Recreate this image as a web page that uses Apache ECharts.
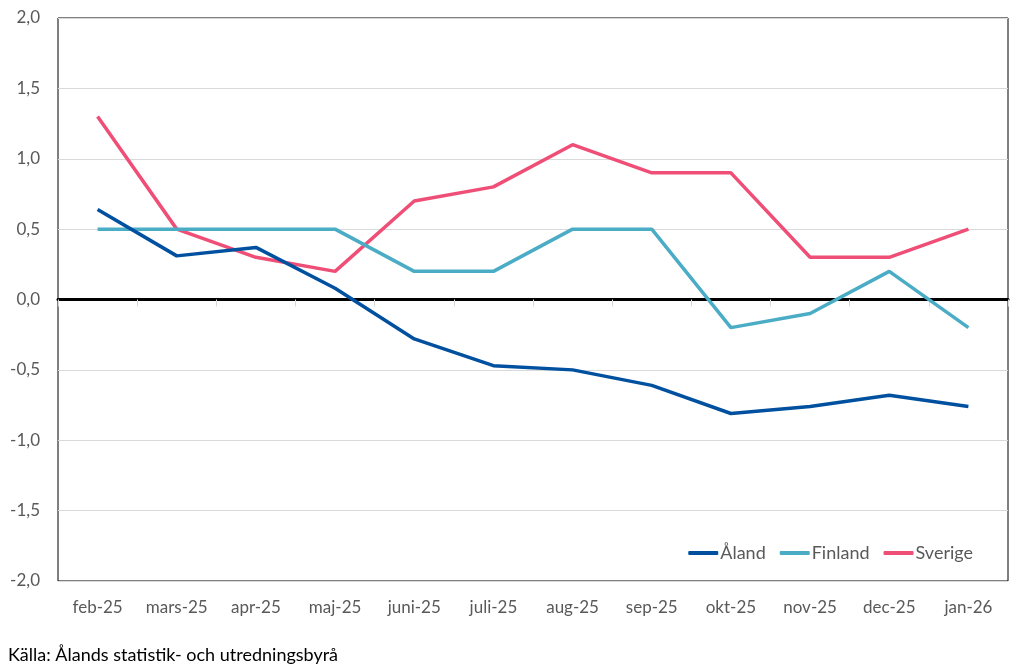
<!DOCTYPE html>
<html>
<head>
<meta charset="utf-8">
<style>
html,body{margin:0;padding:0;background:#fff;}
#chart{width:1024px;height:669px;}
</style>
<script src="https://cdn.jsdelivr.net/npm/echarts@6/dist/echarts.min.js"></script>
</head>
<body>
<div id="chart"></div>
<script>
var categories = ['feb-25','mars-25','apr-25','maj-25','juni-25','juli-25','aug-25','sep-25','okt-25','nov-25','dec-25','jan-26'];
var aland   = [0.64, 0.31, 0.37, 0.08, -0.28, -0.47, -0.50, -0.61, -0.81, -0.76, -0.68, -0.76];
var finland = [0.5, 0.5, 0.5, 0.5, 0.2, 0.2, 0.5, 0.5, -0.2, -0.1, 0.2, -0.2];
var sverige = [1.3, 0.5, 0.3, 0.2, 0.7, 0.8, 1.1, 0.9, 0.9, 0.3, 0.3, 0.5];
var seriesNames = ['Åland', 'Finland', 'Sverige'];
var sourceText = 'Källa: Ålands statistik- och utredningsbyrå';

var FONT = 'Lato, "Open Sans", sans-serif';
var colors = ['#0050a0', '#4bacc6', '#ef4f76'];

var chart = echarts.init(document.getElementById('chart'));
chart.setOption({
  animation: false,
  color: colors,
  textStyle: { fontFamily: FONT },
  grid: { left: 58, right: 16, top: 18, bottom: 88, show: true, borderColor: '#000', borderWidth: 1, containLabel: false },
  legend: {
    right: 46, top: 539,
    itemWidth: 30, itemHeight: 4, itemGap: 14,
    icon: 'roundRect',
    textStyle: { fontFamily: FONT, fontSize: 18, color: '#595959', padding: [0,0,0,-3] },
    data: seriesNames
  },
  graphic: [{
    type: 'text', left: 8, top: 646,
    style: { text: sourceText, fontFamily: FONT, fontSize: 18, fill: '#000' }
  }],
  xAxis: [{
    type: 'category', data: categories, position: 'bottom',
    axisLine: { show: false, onZero: false },
    axisTick: { show: false },
    axisLabel: { color: '#595959', fontSize: 17, fontFamily: FONT, margin: 18, interval: 0, hideOverlap: false },
    splitLine: { show: false }
  }, {
    type: 'category', data: categories, position: 'bottom',
    axisLine: { show: true, onZero: true, lineStyle: { color: '#000', width: 3 } },
    axisTick: { show: true, interval: 0, length: 7, lineStyle: { color: '#d9d9d9', width: 1 } },
    axisLabel: { show: false, interval: 0 },
    splitLine: { show: false }
  }],
  yAxis: {
    type: 'value', min: -2, max: 2, interval: 0.5,
    axisLine: { show: false },
    axisTick: { show: false },
    axisLabel: {
      color: '#595959', fontSize: 17, fontFamily: FONT, margin: 18,
      formatter: function (v) { return v.toFixed(1).replace('.', ','); }
    },
    splitLine: { show: true, lineStyle: { color: '#d9d9d9', width: 1 } }
  },
  series: [
    { name: seriesNames[0], type: 'line', data: aland, symbol: 'none', lineStyle: { width: 3.5 }, z: 5 },
    { name: seriesNames[1], type: 'line', data: finland, symbol: 'none', lineStyle: { width: 3.5 }, z: 4 },
    { name: seriesNames[2], type: 'line', data: sverige, symbol: 'none', lineStyle: { width: 3.5 }, z: 3 }
  ]
});
</script>
</body>
</html>
